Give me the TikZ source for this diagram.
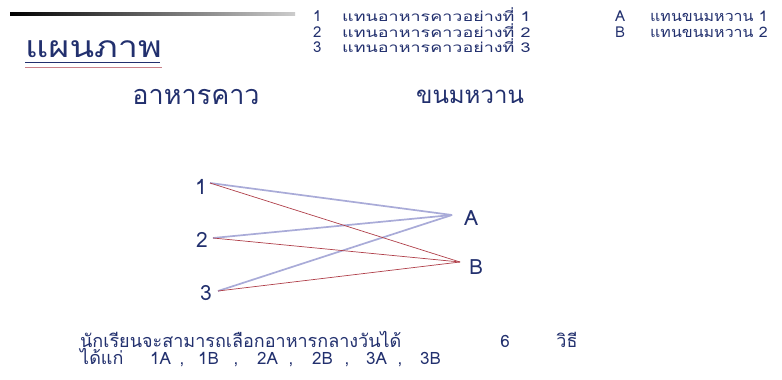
\documentclass[tikz,border=0pt]{standalone}
\usepackage{fontspec}
\newfontfamily\thai[Script=Thai]{Loma}
\definecolor{ink}{HTML}{22306E}
\definecolor{lav}{HTML}{A9ABD8}
\definecolor{redline}{HTML}{B0404A}
\definecolor{pinkline}{HTML}{C98088}
\newcommand{\wide}[2]{\scalebox{#1}[1]{#2}}
\begin{document}
\begin{tikzpicture}[x=1pt,y=-1pt,
  txt/.style={font=\thai\fontsize{#1}{#1}\selectfont, text=ink, inner sep=0pt},
  txt/.default=15,
  blueedge/.style={draw=lav, line width=1.7pt},
  rededge/.style={draw=redline, line width=0.7pt}]
\useasboundingbox (0,0) rectangle (782,380);
\fill[white] (0,0) rectangle (782,380);
% top rule
\shade[left color=black, right color=black!20] (10,12) rectangle (295,15);
% title
\node[txt=30, anchor=base west] (title) at (25,57) {\wide{1.2}{แผนภาพ}};
\draw[ink, line width=0.9pt] (25,62) -- (160,62);
\draw[pinkline, line width=0.8pt] (25,67) -- (162,67);
% legend left
\node[txt=15, anchor=base west] (n1) at (313,21.5) {1};
\node[txt=13.5, anchor=base west] (l1) at (342,21.5) {\wide{1.33}{แทนอาหารคาวอย่างที่ 1}};
\node[txt=15, anchor=base west] (n2) at (313,37) {2};
\node[txt=13.5, anchor=base west] (l2) at (342,37) {\wide{1.33}{แทนอาหารคาวอย่างที่ 2}};
\node[txt=15, anchor=base west] (n3) at (313,52.5) {3};
\node[txt=13.5, anchor=base west] (l3) at (342,52.5) {\wide{1.33}{แทนอาหารคาวอย่างที่ 3}};
% legend right
\node[txt=15, anchor=base west] (nA) at (615,21.5) {A};
\node[txt=14.5, anchor=base west] (lA) at (650,21.5) {\wide{1.1}{แทนขนมหวาน 1}};
\node[txt=15, anchor=base west] (nB) at (615,37) {B};
\node[txt=14.5, anchor=base west] (lB) at (650,37) {\wide{1.1}{แทนขนมหวาน 2}};
% headers
\node[txt=27] (h1) at (196,97) {อาหารคาว};
\node[txt=24] (h2) at (470,97) {ขนมหวาน};
% diagram labels
\node[txt=21] (c1) at (201,187) {1};
\node[txt=21] (c2) at (202,240) {2};
\node[txt=21] (c3) at (206,293) {3};
\node[txt=21] (cA) at (471,218) {A};
\node[txt=21] (cB) at (476,267) {B};
\coordinate (p1) at (210,183);
\coordinate (p2) at (213,238);
\coordinate (p3) at (218,291);
\coordinate (pA) at (452,215);
\coordinate (pB) at (460,262);
\draw[blueedge] (p1) -- (pA);
\draw[blueedge] (p2) -- (pA);
\draw[blueedge] (p3) -- (pA);
\draw[rededge] (p1) -- (pB);
\draw[rededge] (p2) -- (pB);
\draw[rededge] (p3) -- (pB);
% bottom text
\node[txt=18, anchor=base west] (s1) at (80,347) {นักเรียนจะสามารถเลือกอาหารกลางวันได้};
\node[txt=17, anchor=base] (s6) at (505,347) {6};
\node[txt=18, anchor=base] (sw) at (567,347) {วิธี};
\node[txt=18, anchor=base west] (s2) at (80,364) {ได้แก่};
\node[txt=17, anchor=base west] (o1) at (150,364) {1A};
\node[txt=17, anchor=base] (k1) at (182,364) {,};
\node[txt=17, anchor=base west] (o2) at (198,364) {1B};
\node[txt=17, anchor=base] (k2) at (236,364) {,};
\node[txt=17, anchor=base west] (o3) at (257,364) {2A};
\node[txt=17, anchor=base] (k3) at (291,364) {,};
\node[txt=17, anchor=base west] (o4) at (312,364) {2B};
\node[txt=17, anchor=base] (k4) at (347,364) {,};
\node[txt=17, anchor=base west] (o5) at (366,364) {3A};
\node[txt=17, anchor=base] (k5) at (400,364) {,};
\node[txt=17, anchor=base west] (o6) at (420,364) {3B};
\end{tikzpicture}
\end{document}
